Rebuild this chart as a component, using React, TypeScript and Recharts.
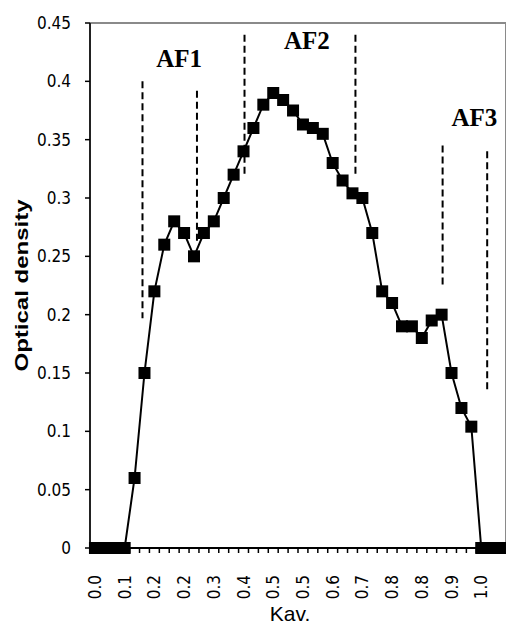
import { LineChart, Line, XAxis, YAxis, ReferenceLine, ReferenceDot } from 'recharts';

// Kav. tick labels, one every third fraction
const kavLabels = ['0.0', '0.1', '0.2', '0.2', '0.3', '0.4', '0.5', '0.5', '0.6', '0.7', '0.8', '0.8', '0.9', '1.0'];

// optical density of each fraction
const density = [
  0, 0, 0, 0, 0.06, 0.15, 0.22, 0.26, 0.28, 0.27, 0.25, 0.27, 0.28, 0.3,
  0.32, 0.34, 0.36, 0.38, 0.39, 0.384, 0.375, 0.363, 0.36, 0.355, 0.33, 0.315, 0.304, 0.3,
  0.27, 0.22, 0.21, 0.19, 0.19, 0.18, 0.195, 0.2, 0.15, 0.12, 0.104, 0, 0, 0,
];

// dashed fraction borders (fraction position, top and bottom density)
const borderAt = [4.8, 10.3, 15.1, 26.3, 35.1, 39.6];
const borderTop = [0.4, 0.392, 0.44, 0.44, 0.345, 0.34];
const borderBottom = [0.197, 0.26, 0.32, 0.32, 0.225, 0.135];

// peak names
const peakNames = ['AF1', 'AF2', 'AF3'];
const peakAt = [8.5, 21.4, 38.3];
const peakLevel = [0.42, 0.435, 0.369];

const yTicks = [0, 0.05, 0.1, 0.15, 0.2, 0.25, 0.3, 0.35, 0.4, 0.45];

const data = density.map((d, i) => ({ idx: i, od: d }));
const xTicks = [
  ...Array.from({ length: density.length + 1 }, (_, i) => i - 0.5),
  ...kavLabels.map((_, k) => k * 3),
];

const narrow = '"Liberation Sans Narrow", "DejaVu Sans Condensed", Arial, sans-serif';

const KavTick = ({ x, y, payload }: any) => {
  const v = payload.value;
  if (!Number.isInteger(v)) {
    return <line x1={x} x2={x} y1={y} y2={y + 5} stroke="#000" strokeWidth={1.5} />;
  }
  const ty = y + 27;
  return (
    <text x={x} y={ty} transform={`rotate(-90 ${x} ${ty})`} textAnchor="end" dominantBaseline="central"
      fontFamily={narrow} fontSize={17} fill="#000">
      {kavLabels[v / 3]}
    </text>
  );
};

const Square = ({ cx, cy, index }: any) => (
  <rect key={index} x={cx - 6} y={cy - 6} width={12} height={12} fill="#000" />
);

const YTitle = ({ viewBox }: any) => {
  const cx = 21;
  const cy = viewBox.y + viewBox.height / 2;
  return (
    <text x={cx} y={cy} transform={`rotate(-90 ${cx} ${cy})`} textAnchor="middle" dominantBaseline="central"
      fontFamily="Liberation Sans, Arial, sans-serif" fontWeight="bold" fontSize={19}
      textLength={172} lengthAdjust="spacingAndGlyphs" fill="#000">
      Optical density
    </text>
  );
};

const XTitle = ({ viewBox }: any) => (
  <text x={viewBox.x + viewBox.width / 2 - 8} y={613} textAnchor="middle" dominantBaseline="central"
    fontFamily="Liberation Sans, Arial, sans-serif" fontSize={21} fill="#000">
    Kav.
  </text>
);

const App = () => {
  return (
    <div style={{ width: 506, height: 626 }}>
      <style>{'body{margin:0}'}</style>
      <LineChart width={506} height={626} data={data} margin={{ top: 23, right: 0, bottom: 0, left: 0 }}>
        <XAxis
          dataKey="idx"
          type="number"
          domain={[-0.5, 41.5]}
          ticks={xTicks}
          interval={0}
          tickLine={false}
          tickSize={0}
          tickMargin={0}
          tick={<KavTick />}
          height={78}
          axisLine={{ stroke: '#000', strokeWidth: 2 }}
          label={<XTitle />}
        />
        <YAxis
          type="number"
          domain={[0, 0.45]}
          ticks={yTicks}
          interval={0}
          width={90}
          tickSize={5}
          tickMargin={14}
          tickLine={{ stroke: '#000', strokeWidth: 1.5 }}
          axisLine={{ stroke: '#222', strokeWidth: 2 }}
          tick={{ fontFamily: narrow, fontSize: 17, fill: '#000' }}
          label={<YTitle />}
        />
        <ReferenceLine y={0.45} stroke="#8a8a8a" strokeWidth={2} />
        <ReferenceLine x={41.5} stroke="#8a8a8a" strokeWidth={2} />
        {borderAt.map((bx, i) => (
          <ReferenceLine
            key={`b${i}`}
            segment={[{ x: bx, y: borderTop[i] }, { x: bx, y: borderBottom[i] }]}
            stroke="#000"
            strokeWidth={2}
            strokeDasharray="7 4"
          />
        ))}
        {peakNames.map((name, i) => (
          <ReferenceDot
            key={name}
            x={peakAt[i]}
            y={peakLevel[i]}
            r={0}
            fill="none"
            stroke="none"
            label={{
              value: name,
              position: 'center',
              fontFamily: '"Liberation Serif", "Times New Roman", serif',
              fontWeight: 'bold',
              fontSize: 25,
              fill: '#000',
            }}
          />
        ))}
        <Line
          type="linear"
          dataKey="od"
          stroke="#000"
          strokeWidth={2}
          dot={<Square />}
          activeDot={false}
          isAnimationActive={false}
        />
      </LineChart>
    </div>
  );
};

export default App;
